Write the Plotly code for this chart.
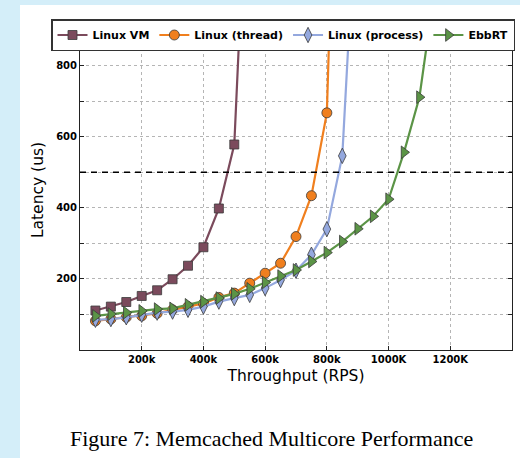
import plotly.graph_objects as go

# Throughput (k requests / s)
x_vm = [50, 100, 150, 200, 250, 300, 350, 400, 450, 500, 550]
y_vm = [111, 122, 135, 152, 168, 199, 237, 289, 398, 578, 1530]

x_thread = [50, 100, 150, 200, 250, 300, 350, 400, 450, 500, 550, 600, 650, 700, 750, 800, 850]
y_thread = [82, 87, 92, 96, 103, 113, 122, 131, 148, 160, 188, 216, 244, 319, 434, 667, 2100]

x_proc = [50, 100, 150, 200, 250, 300, 350, 400, 450, 500, 550, 600, 650, 700, 750, 800, 850, 900]
y_proc = [85, 87, 92, 99, 105, 108, 113, 122, 136, 146, 155, 174, 197, 223, 268, 340, 546, 1350]

x_ebb = [50, 100, 150, 200, 250, 300, 350, 400, 450, 500, 550, 600, 650, 700, 750, 800,
         850, 900, 950, 1000, 1050, 1100, 1150]
y_ebb = [96, 101, 105, 110, 115, 117, 127, 136, 146, 158, 172, 190, 208, 225, 249, 274,
         305, 341, 376, 424, 556, 711, 1020]

slo_latency = 500

x_tickvals = [200, 400, 600, 800, 1000, 1200]
x_ticktext = ["200k", "400k", "600k", "800k", "1000K", "1200K"]
y_tickvals = [100, 200, 300, 400, 500, 600, 700, 800]
y_ticktext = ["", "200", "", "400", "", "600", "", "800"]

series = [
    ("Linux VM", x_vm, y_vm, "#7b4a5c", "square", 9),
    ("Linux (thread)", x_thread, y_thread, "#f07f1e", "circle", 10),
    ("Linux (process)", x_proc, y_proc, "#94a8de", "diamond-tall", 11),
    ("EbbRT", x_ebb, y_ebb, "#5b9446", "triangle-right", 11),
]

fig = go.Figure()
for name, xs, ys, color, sym, size in series:
    fig.add_trace(go.Scatter(
        x=xs, y=ys, name=name, mode="lines+markers",
        line=dict(color=color, width=2.2),
        marker=dict(symbol=sym, size=size, color=color,
                    line=dict(color="#3a3a3a", width=0.8)),
        cliponaxis=True,
    ))

fig.add_hline(y=slo_latency, line=dict(color="black", width=1.6, dash="6px,5px"))

# white page area over light-blue slide background
fig.add_shape(type="rect", xref="paper", yref="paper",
              x0=(20 - 80) / 432, x1=(525 - 80) / 432,
              y0=(350 - 470) / 320, y1=(350 - 5) / 320,
              fillcolor="white", line=dict(width=0), layer="below")

fig.update_layout(
    width=520, height=458,
    margin=dict(l=80, r=8, t=30, b=108),
    paper_bgcolor="#d4eef9",
    plot_bgcolor="white",
    font=dict(family="DejaVu Sans", color="black"),
    showlegend=True,
    legend=dict(
        orientation="h", x=(51 - 80) / 432, y=(350 - 19) / 320,
        xanchor="left", yanchor="top",
        bgcolor="white", bordercolor="#333333", borderwidth=1.5,
        font=dict(family="DejaVu Sans", size=11, weight="bold"),
        itemwidth=30, tracegroupgap=0,
    ),
    xaxis=dict(
        range=[0, 1400], tickvals=x_tickvals, ticktext=x_ticktext,
        showgrid=True, gridcolor="#b5b5b5", griddash="dot", gridwidth=1,
        showline=True, linecolor="#222222", linewidth=1, mirror="ticks",
        ticks="inside", ticklen=4, tickcolor="#222222",
        tickfont=dict(family="DejaVu Sans", size=10, weight="bold"),
        title=dict(text="Throughput (RPS)", font=dict(family="DejaVu Sans", size=15.5), standoff=6),
        zeroline=False,
    ),
    yaxis=dict(
        range=[0, 900], tickvals=y_tickvals, ticktext=y_ticktext,
        showgrid=True, gridcolor="#b5b5b5", griddash="dot", gridwidth=1,
        showline=True, linecolor="#222222", linewidth=1, mirror="ticks",
        ticks="inside", ticklen=4, tickcolor="#222222",
        tickfont=dict(family="DejaVu Sans", size=10, weight="bold"),
        title=dict(text="Latency (us)", font=dict(family="DejaVu Sans", size=15.5), standoff=8),
        zeroline=False,
    ),
    annotations=[dict(
        text="Figure 7: Memcached Multicore Performance",
        xref="paper", yref="paper", x=(271 - 80) / 432, y=(350 - 438) / 320,
        xanchor="center", yanchor="middle", showarrow=False,
        font=dict(family="Liberation Serif", size=22, color="black"),
    )],
)

fig.write_html("out.html")
